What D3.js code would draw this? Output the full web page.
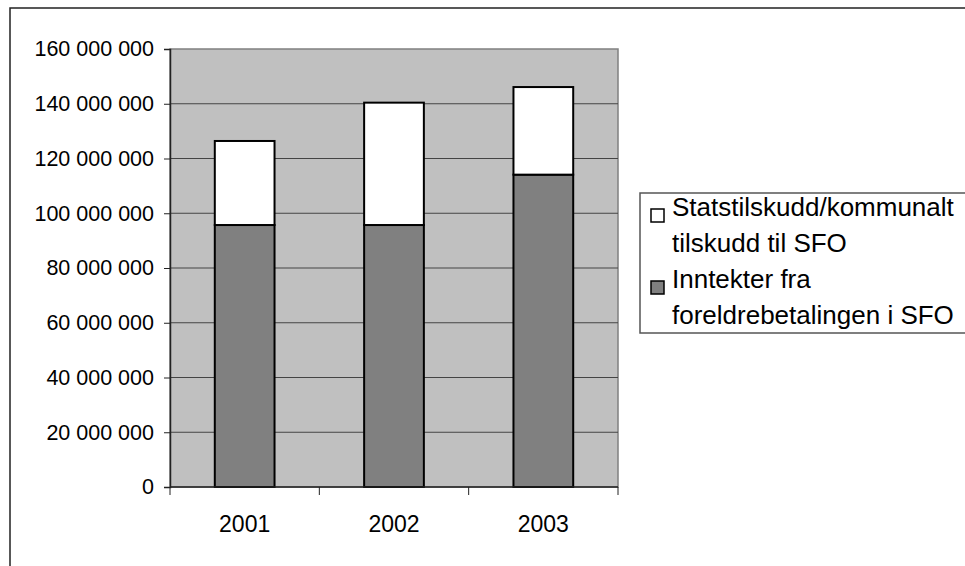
<!DOCTYPE html>
<html>
<head>
<meta charset="utf-8">
<script src="https://cdn.jsdelivr.net/npm/d3@7"></script>
<style>
  body { margin: 0; background: #fff; }
  svg text { font-family: Arial, "Liberation Sans", sans-serif; fill: #000; }
</style>
</head>
<body>
<div id="chart"></div>
<script>
const years = ['2001', '2002', '2003'];
const foreldre = [95700000, 95700000, 114100000];     // Inntekter fra foreldrebetalingen i SFO
const tilskudd = [30700000, 44700000, 32000000];      // Statstilskudd/kommunalt tilskudd til SFO
const yTicks = [0, 20000000, 40000000, 60000000, 80000000, 100000000, 120000000, 140000000, 160000000];
const legendItems = [
  { lines: ['Statstilskudd/kommunalt', 'tilskudd til SFO'], color: '#FFFFFF' },
  { lines: ['Inntekter fra', 'foreldrebetalingen i SFO'], color: '#808080' }
];

const width = 965, height = 566;
const plot = { left: 170, right: 618, top: 49, bottom: 487 };

const svg = d3.select('#chart').append('svg')
  .attr('width', width).attr('height', height);

// outer chart frame (runs off the right and bottom edge)
svg.append('rect')
  .attr('x', 10).attr('y', 8)
  .attr('width', 1000).attr('height', 600)
  .attr('fill', '#fff').attr('stroke', '#222').attr('stroke-width', 1.5);

const x = d3.scaleBand()
  .domain(years)
  .range([plot.left, plot.right])
  .paddingInner(0.6)
  .paddingOuter(0.3);

const y = d3.scaleLinear()
  .domain([0, 160000000])
  .range([plot.bottom, plot.top]);

const fmt = v => d3.format(',')(v).replace(/,/g, ' ');

// plot area
svg.append('rect')
  .attr('x', plot.left).attr('y', plot.top)
  .attr('width', plot.right - plot.left).attr('height', plot.bottom - plot.top)
  .attr('fill', '#C0C0C0').attr('stroke', '#808080').attr('stroke-width', 1.5);

// gridlines
svg.append('g').selectAll('line')
  .data(yTicks.filter(d => d > 0 && d < 160000000))
  .join('line')
  .attr('x1', plot.left).attr('x2', plot.right)
  .attr('y1', d => y(d)).attr('y2', d => y(d))
  .attr('stroke', '#444').attr('stroke-width', 1);

// stacked bars
const stacked = years.map((yr, i) => ({ year: yr, a: foreldre[i], b: tilskudd[i] }));
const series = d3.stack().keys(['a', 'b'])(stacked);
const fills = ['#808080', '#FFFFFF'];

svg.append('g').selectAll('g')
  .data(series)
  .join('g')
  .attr('fill', (d, i) => fills[i])
  .selectAll('rect')
  .data(d => d)
  .join('rect')
  .attr('x', d => x(d.data.year))
  .attr('width', x.bandwidth())
  .attr('y', d => y(d[1]))
  .attr('height', d => y(d[0]) - y(d[1]))
  .attr('stroke', '#000').attr('stroke-width', 2);

// y axis
const yAxis = svg.append('g')
  .attr('transform', `translate(${plot.left},0)`)
  .call(d3.axisLeft(y).tickValues(yTicks).tickFormat(fmt).tickSize(6).tickPadding(10));
yAxis.select('.domain').attr('stroke', '#222').attr('stroke-width', 1.5);
yAxis.selectAll('.tick line').attr('stroke', '#222');
yAxis.selectAll('text').style('font-size', '21.5px').attr('fill', '#000');

// x axis: ticks between categories
const xAxis = svg.append('g')
  .attr('transform', `translate(0,${plot.bottom})`);
xAxis.append('line')
  .attr('x1', plot.left).attr('x2', plot.right)
  .attr('stroke', '#222').attr('stroke-width', 1.5);
xAxis.selectAll('line.tk')
  .data(d3.range(years.length + 1))
  .join('line')
  .attr('class', 'tk')
  .attr('x1', i => plot.left + i * (plot.right - plot.left) / years.length)
  .attr('x2', i => plot.left + i * (plot.right - plot.left) / years.length)
  .attr('y1', 0).attr('y2', 8)
  .attr('stroke', '#222');
xAxis.selectAll('text')
  .data(years)
  .join('text')
  .attr('x', d => x(d) + x.bandwidth() / 2)
  .attr('y', 45)
  .attr('text-anchor', 'middle')
  .style('font-size', '23px')
  .text(d => d);

// legend
const legend = svg.append('g');
legend.append('rect')
  .attr('x', 640).attr('y', 193)
  .attr('width', 400).attr('height', 140)
  .attr('fill', '#fff').attr('stroke', '#555').attr('stroke-width', 1.5);

const item = legend.selectAll('g.item')
  .data(legendItems)
  .join('g')
  .attr('class', 'item')
  .attr('transform', (d, i) => `translate(0,${i * 72})`);

item.append('rect')
  .attr('x', 651).attr('y', 209)
  .attr('width', 13).attr('height', 13)
  .attr('fill', d => d.color)
  .attr('stroke', '#000').attr('stroke-width', 1.5);

item.append('text')
  .attr('x', 672).attr('y', 216)
  .style('font-size', '26px')
  .selectAll('tspan')
  .data(d => d.lines)
  .join('tspan')
  .attr('x', 672)
  .attr('dy', (d, i) => i === 0 ? 0 : 36)
  .text(d => d);
</script>
</body>
</html>
